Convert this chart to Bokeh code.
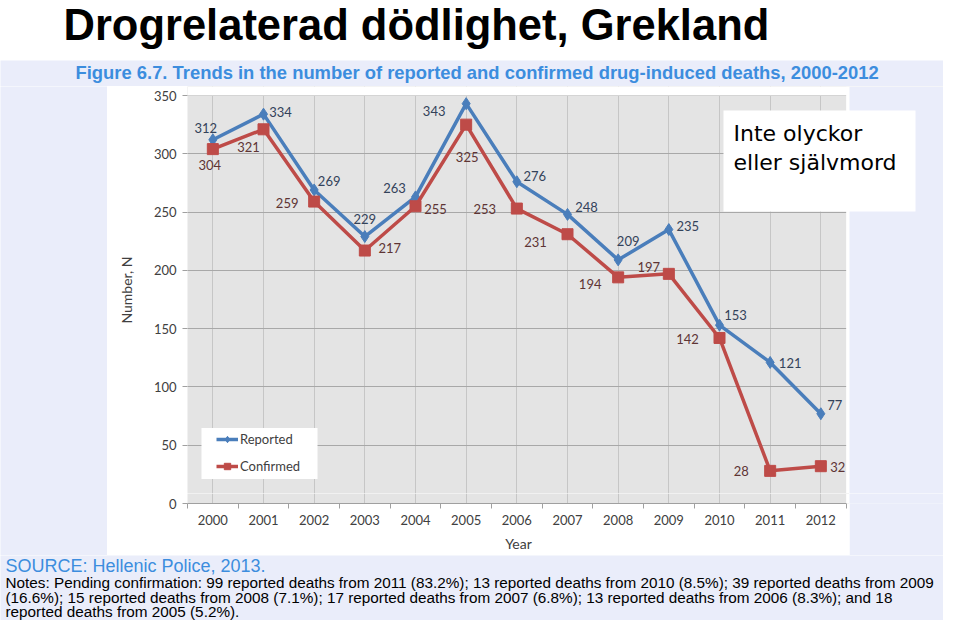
from bokeh.plotting import figure
from bokeh.layouts import column, row
from bokeh.models import (FixedTicker, BoxAnnotation, Label, Legend, LegendItem,
                          ColumnDataSource, Range1d, BasicTickFormatter)
from bokeh.core.properties import value
from bokeh.embed import file_html
from bokeh.resources import INLINE

# ---------------- data ----------------
years = list(range(2000, 2013))
reported = [312, 334, 269, 229, 263, 343, 276, 248, 209, 235, 153, 121, 77]
confirmed = [304, 321, 259, 217, 255, 325, 253, 231, 194, 197, 142, 28, 32]
y_ticks = [0, 50, 100, 150, 200, 250, 300, 350]

title_text = "Drogrelaterad dödlighet, Grekland"
caption_text = "Figure 6.7. Trends in the number of reported and confirmed drug-induced deaths, 2000-2012"
box_lines = ["Inte olyckor", "eller självmord"]
source_text = "SOURCE: Hellenic Police, 2013."
notes_lines = [
    "Notes: Pending confirmation: 99 reported deaths from 2011 (83.2%); 13 reported deaths from 2010 (8.5%); 39 reported deaths from 2009",
    "(16.6%); 15 reported deaths from 2008 (7.1%); 17 reported deaths from 2007 (6.8%); 13 reported deaths from 2006 (8.3%); and 18",
    "reported deaths from 2005 (5.2%).",
]

# data-label placement offsets in pixels (dx right, dy down)
rep_dx = [-7, 17, 15, 0, -21, -32, 18, 19, 10, 19, 16, 20, 14]
rep_dy = [-12, -2, -9, -18, -9, 7, -6, -7, -19, -4, -10, 1, -9]
conf_dx = [-3, -15, -27, 25, 20, 1, -32, -32, -28, -20, -32, -29, 17]
conf_dy = [16, 18, 1, -3, 3, 32, 0, 8, 7, -7, 1, 0, 1]

# ---------------- styling ----------------
BLUE = "#4A7EBB"
RED = "#BE4B48"
LAV = "#EAEDFA"
GRAY = "#E4E4E4"
CAPBLUE = "#3C8DDE"
TXT = "#404040"
SANS = "Liberation Sans"
PX_YEAR = 608 / 12          # pixels per year
PX_UNIT = 408 / 350         # pixels per death


def deco(width, height, x0, x1, y0, y1, bg):
    f = figure(width=width, height=height, output_backend="svg", toolbar_location=None,
               x_range=Range1d(x0, x1), y_range=Range1d(y1, y0),
               x_axis_type=None, y_axis_type=None, min_border=0)
    f.background_fill_color = bg
    f.border_fill_color = bg
    f.outline_line_color = None
    return f


def style_axis(ax):
    ax.major_label_text_font = "Lato"
    ax.major_label_text_font_size = "13px"
    ax.major_label_text_color = TXT
    ax.axis_label_text_font = "Lato"
    ax.axis_label_text_font_size = "14px"
    ax.axis_label_text_font_style = "normal"
    ax.axis_label_text_color = TXT


# ---------- header ----------
f_title = deco(943, 60, 0, 943, 0, 60, "white")
f_title.add_layout(Label(x=63, y=24.5, text=title_text, text_font=SANS,
                         text_font_style="bold", text_font_size="43.5px", text_color="black",
                         text_baseline="middle", text_align="left"))

f_cap = deco(943, 26, 0, 943, 60, 86, LAV)
f_cap.add_layout(Label(x=75, y=71.5, text=caption_text, text_font=SANS,
                       text_font_style="bold", text_font_size="18.4px", text_color=CAPBLUE,
                       text_baseline="middle", text_align="left"))

f_left = deco(107, 469, 0, 107, 86, 555, LAV)
f_corner = deco(94, 62, 849, 943, 493, 555, LAV)

# ---------- chart (page x 107..943, y 86..493) ----------
FRAME_L, FRAME_B = 187, 493
p = figure(width=836, height=407, output_backend="svg", toolbar_location=None,
           x_range=Range1d(1999.5, 1999.5 + 756 / PX_YEAR),
           y_range=Range1d(10 / PX_UNIT, 350 + 9 / PX_UNIT),
           x_axis_location=None,
           min_border_left=80, min_border_right=0, min_border_top=0, min_border_bottom=0)
p.background_fill_color = GRAY
p.border_fill_color = "white"
p.outline_line_color = None
p.xgrid.ticker = FixedTicker(ticks=years)
p.xgrid.grid_line_color = "#C6C6C6"
p.ygrid.grid_line_color = "#A8A8A8"
p.yaxis.ticker = FixedTicker(ticks=y_ticks, minor_ticks=[])
p.yaxis.axis_line_color = None
p.yaxis.major_tick_in = 0
p.yaxis.major_tick_out = 5
p.yaxis.major_tick_line_color = "#A0A0A0"
p.yaxis.major_label_standoff = 6
p.yaxis.axis_label = "Number, N"
p.yaxis.axis_label_standoff = 16
style_axis(p.yaxis)

# white margins around the plotting area and lavender slide strip on the right
p.add_layout(BoxAnnotation(bottom=350, fill_color="white", fill_alpha=1, line_color=None))
p.add_layout(BoxAnnotation(left=2012.5, fill_color="white", fill_alpha=1, line_color=None))
p.add_layout(BoxAnnotation(left=849 - FRAME_L, left_units="screen",
                           fill_color=LAV, fill_alpha=1, line_color=None))

src = ColumnDataSource(dict(
    year=years, rep=reported, conf=confirmed,
    rep_lbl=[str(v) for v in reported], conf_lbl=[str(v) for v in confirmed],
    rep_dx=rep_dx, rep_dy=rep_dy, conf_dx=conf_dx, conf_dy=conf_dy))

# legend background box
p.add_layout(BoxAnnotation(left=201 - FRAME_L, right=317 - FRAME_L,
                           top=FRAME_B - 427.5, bottom=FRAME_B - 478.5,
                           left_units="screen", right_units="screen",
                           top_units="screen", bottom_units="screen",
                           fill_color="white", fill_alpha=1, line_color=None,
                           level="underlay"))

r1 = p.line("year", "rep", source=src, line_color=BLUE, line_width=3.5)
s1 = p.scatter("year", "rep", source=src, marker="diamond", size=12, color=BLUE)
r2 = p.line("year", "conf", source=src, line_color=RED, line_width=3.5)
s2 = p.scatter("year", "conf", source=src, marker="square", size=11, color=RED)

p.text("year", "rep", text="rep_lbl", x_offset="rep_dx", y_offset="rep_dy", source=src,
       text_align="center", text_baseline="middle", text_font=value("Lato"),
       text_font_size="13px", text_color="#33425A")
p.text("year", "conf", text="conf_lbl", x_offset="conf_dx", y_offset="conf_dy", source=src,
       text_align="center", text_baseline="middle", text_font=value("Lato"),
       text_font_size="13px", text_color="#5E3434")

legend = Legend(items=[LegendItem(label="Reported", renderers=[r1, s1]),
                       LegendItem(label="Confirmed", renderers=[r2, s2])],
                location=(29, 19), padding=0, spacing=11, glyph_width=22, glyph_height=16,
                label_height=16, label_standoff=2,
                label_text_font="Lato", label_text_font_size="13px", label_text_color=TXT,
                border_line_color=None, background_fill_alpha=0)
p.add_layout(legend)

# note box
p.add_layout(BoxAnnotation(left=723 - FRAME_L, right=915 - FRAME_L,
                           top=FRAME_B - 110, bottom=FRAME_B - 211,
                           left_units="screen", right_units="screen",
                           top_units="screen", bottom_units="screen",
                           fill_color="white", fill_alpha=1, line_color=None))
for i, t in enumerate(box_lines):
    p.add_layout(Label(x=733 - FRAME_L, y=FRAME_B - (133 + 29 * i), x_units="screen",
                       y_units="screen", text=t, text_font="DejaVu Sans",
                       text_font_size="22px", text_color="black",
                       text_baseline="middle", text_align="left"))

# ---------- x axis strip (page x 107..849, y 493..555) ----------
q = figure(width=742, height=62, output_backend="svg", toolbar_location=None,
           x_range=Range1d(1999.5, 1999.5 + 662 / PX_YEAR),
           y_range=Range1d(0, 10 / PX_UNIT),
           min_border_left=80, min_border_right=0, min_border_top=0, min_border_bottom=52)
q.background_fill_color = GRAY
q.border_fill_color = "white"
q.outline_line_color = None
q.add_layout(BoxAnnotation(left=2012.5, fill_color="white", fill_alpha=1, line_color=None))
q.xaxis.ticker = FixedTicker(ticks=years, minor_ticks=[y - 0.5 for y in years] + [2012.5])
q.xaxis.bounds = (1999.5, 2012.5)
q.xaxis.formatter = BasicTickFormatter(use_scientific=False)
q.xaxis.major_tick_line_color = None
q.xaxis.major_tick_in = 0
q.xaxis.major_tick_out = 0
q.xaxis.minor_tick_in = 0
q.xaxis.minor_tick_out = 5
q.xaxis.minor_tick_line_color = "#A0A0A0"
q.xaxis.axis_line_color = "#A0A0A0"
q.xaxis.major_label_standoff = 6
q.xaxis.axis_label = "Year"
q.xaxis.axis_label_standoff = 7
style_axis(q.xaxis)
q.yaxis.ticker = FixedTicker(ticks=[y_ticks[0]], minor_ticks=[])
q.yaxis.axis_line_color = None
q.yaxis.major_tick_in = 0
q.yaxis.major_tick_out = 5
q.yaxis.major_tick_line_color = "#A0A0A0"
q.yaxis.major_label_standoff = 6
style_axis(q.yaxis)
q.xgrid.grid_line_color = "#C6C6C6"
q.ygrid.grid_line_color = None

# ---------- footer ----------
f_foot = deco(943, 65, 0, 943, 555, 620, LAV)
f_foot.add_layout(Label(x=5, y=565.5, text=source_text, text_font=SANS,
                        text_font_size="18px", text_color=CAPBLUE,
                        text_baseline="middle", text_align="left"))
for i, t in enumerate(notes_lines):
    f_foot.add_layout(Label(x=5, y=582 + 14.5 * i, text=t, text_font=SANS,
                            text_font_size="15.3px", text_color="black",
                            text_baseline="middle", text_align="left"))

layout = column(f_title, f_cap,
                row(f_left, column(p, row(q, f_corner))),
                f_foot)
open("out.html", "w").write(file_html(layout, INLINE))
